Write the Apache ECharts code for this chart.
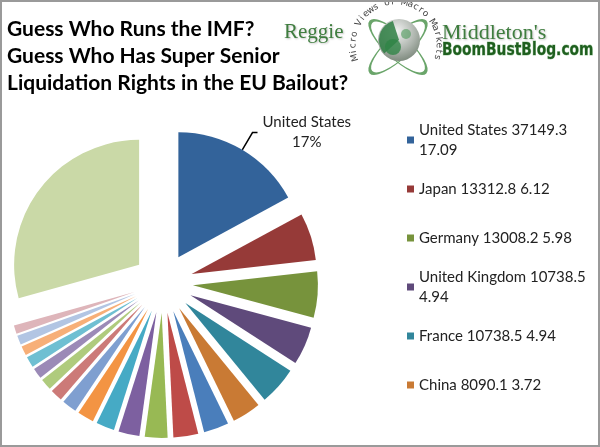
<!DOCTYPE html>
<html><head><meta charset="utf-8">
<script src="https://cdn.jsdelivr.net/npm/echarts@6/dist/echarts.min.js"></script>
<style>html,body{margin:0;padding:0;background:#fff}#c{width:600px;height:447px}</style>
</head><body><div id="c"></div>
<script>
// ---- data ----
const countries = ['United States','Japan','Germany','United Kingdom','France','China','Italy','Saudi Arabia','Canada','Russia','Netherlands','Belgium','India','Switzerland','Australia','Spain','Brazil','Venezuela','Mexico','Sweden','Other'];
const quotas = [37149.3,13312.8,13008.2,10738.5,10738.5,8090.1,7055.5,6985.5,6369.2,5945.4,5162.4,4605.2,4158.2,3458.5,3236.4,3048.9,3036.1,2659.1,2585.8,2395.5,63712.0];
const shares = [17.09,6.12,5.98,4.94,4.94,3.72,3.24,3.21,2.93,2.73,2.37,2.12,1.91,1.59,1.49,1.40,1.40,1.22,1.19,1.10,29.31];
const colors = ['#33639A','#963A38','#77933C','#5F4A7B','#31869B','#C97A34','#4A7EBB','#BE4B48','#98B954','#7D60A0','#46AAC5','#F39443','#7F9FD0','#CC7A78','#AFCB7D','#9B8AB7','#6FBFD2','#F7AF78','#B2C5E3','#DEB5BA','#CAD9A7'];
const legendCount = 6;
const labelledSlices = ['United States'];
const titleLines = ['Guess Who Runs the IMF?','Guess Who Has Super Senior','Liquidation Rights in the EU Bailout?'];
const logoLeft = 'Reggie';
const logoRight = "Middleton's";
const logoSite = 'BoomBustBlog.com';
const logoTagline = 'Micro Views of Macro Markets';

// ---- style ----
const FONT = 'Lato, "Liberation Sans", sans-serif';
const LEG_FS = 15, LEG_LH = 20, LEG_W = 172;
const LEG_TOP0 = 140, LEG_STEP = 49;

function legendText(name) {
  const i = countries.indexOf(name);
  return name + ' ' + quotas[i] + ' ' + shares[i];
}
const mctx = document.createElement('canvas').getContext('2d');
mctx.font = LEG_FS + 'px ' + FONT;

const legends = countries.slice(0, legendCount).map((name, i) => {
  const lines = mctx.measureText(legendText(name)).width > LEG_W ? 2 : 1;
  const c = LEG_TOP0 + LEG_STEP * i;
  return {
    data: [name], left: 407, top: c - (2 * lines - 1) * LEG_LH / 2,
    orient: 'vertical', padding: 0, icon: 'rect', itemWidth: 7, itemHeight: 7,
    selectedMode: false, formatter: legendText,
    textStyle: { fontFamily: FONT, fontSize: LEG_FS, lineHeight: LEG_LH, color: '#222',
      width: LEG_W, overflow: 'break', padding: [(lines - 1) * LEG_LH, 0, 0, 0] }
  };
});

// logo graphics
const gcx = 396, gcy = 45, gR = 43;
const tagChars = logoTagline.split('');
const a0 = 253, step = 7.9;
const tagEls = tagChars.map((ch, i) => {
  const a = (a0 + i * step) * Math.PI / 180;
  return { type: 'text', x: gcx + gR * Math.sin(a), y: gcy - gR * Math.cos(a), rotation: -a,
    style: { text: ch, fontFamily: '"DejaVu Sans", sans-serif', fontSize: 9, fill: '#444', align: 'center', verticalAlign: 'middle' } };
});

const graphic = [
  { type: 'rect', shape: { x: 1, y: 1, width: 598, height: 445 }, style: { fill: null, stroke: '#9a9a9a', lineWidth: 2 }, z: 100 },
  { type: 'text', left: 284, top: 22, style: { text: logoLeft, fontFamily: '"Liberation Serif", serif', fontSize: 21, fill: '#3f7d3f', textShadowColor: 'rgba(0,0,0,0.25)', textShadowBlur: 2, textShadowOffsetX: 1, textShadowOffsetY: 1 } },
  { type: 'text', left: 442, top: 22, style: { text: logoRight, fontFamily: '"Liberation Serif", serif', fontSize: 22, fill: '#3f7d3f', textShadowColor: 'rgba(0,0,0,0.25)', textShadowBlur: 2, textShadowOffsetX: 1, textShadowOffsetY: 1 } },
  { type: 'text', x: 442, y: 50, scaleX: 0.77, style: { text: logoSite, fontFamily: '"DejaVu Sans", sans-serif', fontWeight: 'bold', fontSize: 18, fill: '#1f5f1f', stroke: '#a9cfa9', lineWidth: 1, verticalAlign: 'middle' } },
  { type: 'circle', x: 398, y: 47, rotation: 0.75, scaleY: 0.32, shape: { cx: 0, cy: 0, r: 37 }, style: { fill: null, stroke: '#6aa56a', lineWidth: 2, strokeNoScale: true } },
  { type: 'circle', x: 398, y: 47, rotation: -0.75, scaleY: 0.32, shape: { cx: 0, cy: 0, r: 37 }, style: { fill: null, stroke: '#6aa56a', lineWidth: 2, strokeNoScale: true } },
  { type: 'circle', shape: { cx: 399, cy: 40, r: 21 }, style: { fill: new echarts.graphic.RadialGradient(0.45, 0.3, 0.8, [{ offset: 0, color: '#f2f2f2' }, { offset: 0.55, color: '#aeb5ae' }, { offset: 1, color: '#6f7d6f' }]) } },
  { type: 'sector', shape: { cx: 399, cy: 40, r: 20, r0: 0, startAngle: 2.4, endAngle: 4.4 }, style: { fill: '#2f7f44', opacity: 0.85 } },
  { type: 'circle', shape: { cx: 393, cy: 47, r: 8 }, style: { fill: '#2f8446', opacity: 0.8 } },
  { type: 'circle', shape: { cx: 406, cy: 34, r: 5 }, style: { fill: '#4c9a5a', opacity: 0.6 } }
].concat(tagEls);

const option = {
  animation: false,
  color: colors,
  title: { text: titleLines.join('\n'), left: 7, top: 16, padding: 0,
    textStyle: { fontFamily: FONT, fontSize: 21, fontWeight: 'bold', lineHeight: 27, color: '#000' } },
  legend: legends,
  graphic: graphic,
  series: [{
    type: 'pie', center: [163, 283], radius: 125, startAngle: 90, clockwise: true,
    selectedMode: 'multiple', selectedOffset: 30, percentPrecision: 0,
    emphasis: { disabled: true }, avoidLabelOverlap: false,
    label: { show: false },
    labelLine: { show: false },
    data: countries.map((name, i) => {
      const lab = labelledSlices.includes(name);
      return {
        name: name, value: shares[i], selected: true,
        label: lab ? { show: true, position: 'outside', formatter: '{a|{b}}\n{a|{d}%}', color: '#222',
          fontFamily: FONT, fontSize: LEG_FS, lineHeight: 20, distanceToLabelLine: 5,
          rich: { a: { align: 'center', fontFamily: FONT, fontSize: LEG_FS, lineHeight: 20, color: '#222' } } } : { show: false },
        labelLine: lab ? { show: true, length: 20, length2: 5, lineStyle: { color: '#000', width: 1.5 } } : { show: false }
      };
    })
  }]
};
const chart = echarts.init(document.getElementById('c'), null, { renderer: 'canvas' });
chart.setOption(option);
</script>
</body></html>
